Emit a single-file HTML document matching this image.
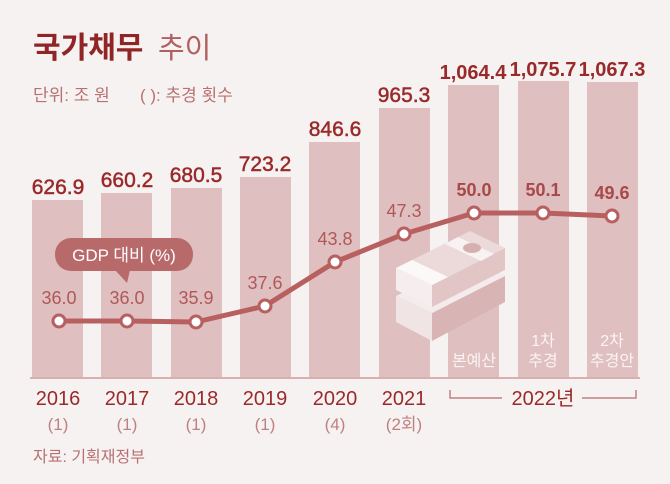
<!DOCTYPE html>
<html><head><meta charset="utf-8"><style>
body{margin:0;background:#f7f2f2;}
svg{display:block;font-family:"Liberation Sans","Noto Sans CJK KR",sans-serif;}
</style></head><body>
<svg width="670" height="484" viewBox="0 0 670 484">
<rect width="670" height="484" fill="#f7f2f2"/>
<text x="33" y="58" font-size="30" font-weight="bold" fill="#8f2525">국가채무</text>
<text x="158" y="58" font-size="29" fill="#b06060">추이</text>
<text x="33" y="101" font-size="17" fill="#b87070">단위: 조 원</text>
<text x="140" y="101" font-size="17" fill="#b87070">( ): 추경 횟수</text>
<g fill="#dfbfbf">
<rect x="32" y="200" width="51" height="178"/>
<rect x="101" y="193" width="51" height="185"/>
<rect x="171" y="188" width="51" height="190"/>
<rect x="240" y="177" width="51" height="201"/>
<rect x="309" y="142" width="51" height="236"/>
<rect x="379" y="108" width="51" height="270"/>
<rect x="448" y="85" width="51" height="293"/>
<rect x="518" y="81" width="51" height="297"/>
<rect x="587" y="82" width="51" height="296"/>
</g>
<rect x="30" y="377" width="610" height="2" fill="#d8b0b0"/>
<g font-size="21" fill="#9a2a2a" stroke="#9a2a2a" stroke-width="0.5" text-anchor="middle">
<text x="58" y="194">626.9</text>
<text x="127" y="187">660.2</text>
<text x="196" y="182">680.5</text>
<text x="265" y="171">723.2</text>
<text x="335" y="136">846.6</text>
<text x="404" y="102">965.3</text>
</g>
<g font-size="20" font-weight="bold" fill="#9a2a2a" text-anchor="middle">
<text x="473" y="79">1,064.4</text>
<text x="543" y="76">1,075.7</text>
<text x="612" y="76">1,067.3</text>
</g>
<!-- money stack -->
<g>
<polygon points="396,322 396,296 432,313 432,341" fill="#f1e4e4"/>
<polygon points="432,313 505,276 505,302 432,341" fill="#d9b4b4"/>
<polygon points="396,296 470,259 505,276 432,313" fill="#f4ecec"/>
<polygon points="396,290 396,268 432,285 432,307" fill="#f6eeee"/>
<polygon points="432,285 505,248 505,270 432,307" fill="#e2c6c6"/>
<polygon points="396,268 470,231 505,248 432,285" fill="#ecdada"/>
<polygon points="396,268 412,260 448,277 432,285" fill="#fbf8f8"/>
<polygon points="445,244 458,237 494,254 481,261" fill="#f8f2f2"/>
<ellipse cx="472" cy="248" rx="9" ry="5" fill="#d6b0b0"/>
</g>
<polyline points="59,321 127,321 196,322 265,306 335,262 404,234 474,213 543,213 612,216" fill="none" stroke="#b86060" stroke-width="5" stroke-linejoin="round"/>
<g fill="#fff" stroke="#b86060" stroke-width="3">
<circle cx="59" cy="321" r="6"/><circle cx="127" cy="321" r="6"/><circle cx="196" cy="322" r="6"/>
<circle cx="265" cy="306" r="6"/><circle cx="335" cy="262" r="6"/><circle cx="404" cy="234" r="6"/>
<circle cx="474" cy="213" r="6"/><circle cx="543" cy="213" r="6"/><circle cx="612" cy="216" r="6"/>
</g>
<g font-size="18" fill="#b05858" text-anchor="middle">
<text x="59" y="304">36.0</text><text x="127" y="304">36.0</text><text x="196" y="304">35.9</text>
<text x="265" y="289">37.6</text><text x="335" y="245">43.8</text><text x="404" y="217">47.3</text>
</g>
<g font-size="18" font-weight="bold" fill="#a84848" text-anchor="middle">
<text x="474" y="196">50.0</text><text x="543" y="196">50.1</text><text x="612" y="199">49.6</text>
</g>
<rect x="55" y="238" width="138" height="33" rx="16" fill="#b86a6a"/>
<polygon points="115,270 130,270 127,283" fill="#b86a6a"/>
<text x="124" y="261" font-size="17" fill="#fff" text-anchor="middle">GDP 대비 (%)</text>
<g font-size="16" fill="#fbf3f3" text-anchor="middle">
<text x="474" y="366">본예산</text>
<text x="543" y="346">1차</text><text x="543" y="366">추경</text>
<text x="612" y="346">2차</text><text x="612" y="366">추경안</text>
</g>
<g font-size="20" fill="#9a2a2a" text-anchor="middle">
<text x="58" y="405">2016</text><text x="127" y="405">2017</text><text x="196" y="405">2018</text>
<text x="265" y="405">2019</text><text x="335" y="405">2020</text><text x="404" y="405">2021</text>
<text x="543" y="405">2022년</text>
</g>
<g font-size="17" fill="#c08080" text-anchor="middle">
<text x="58" y="430">(1)</text><text x="127" y="430">(1)</text><text x="196" y="430">(1)</text>
<text x="265" y="430">(1)</text><text x="335" y="430">(4)</text><text x="404" y="430">(2회)</text>
</g>
<path d="M450,390 V398 H502 M582,398 H636 V390" fill="none" stroke="#c08080" stroke-width="1.5"/>
<text x="33" y="462" font-size="16" fill="#b87070">자료: 기획재정부</text>
</svg>
</body></html>
